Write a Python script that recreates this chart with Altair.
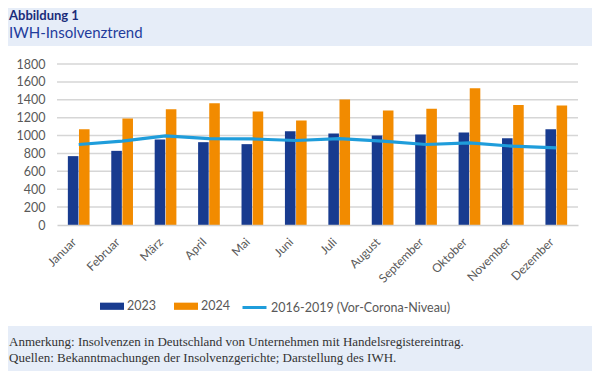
import altair as alt
import pandas as pd

months = ["Januar", "Februar", "März", "April", "Mai", "Juni", "Juli",
          "August", "September", "Oktober", "November", "Dezember"]
v2023 = [770, 829, 956, 926, 904, 1049, 1022, 1000, 1011, 1034, 970, 1071]
v2024 = [1071, 1190, 1294, 1361, 1268, 1168, 1402, 1279, 1301, 1528, 1342, 1335]
vbase = [900, 937, 996, 966, 962, 945, 966, 937, 900, 918, 881, 862]
series = ["2023", "2024", "2016-2019 (Vor-Corona-Niveau)"]
colors = ["#183b8f", "#f28b00", "#1f9ddb"]
y_ticks = [0, 200, 400, 600, 800, 1000, 1200, 1400, 1600, 1800]

title1 = "Abbildung 1"
title2 = "IWH-Insolvenztrend"
note1 = "Anmerkung: Insolvenzen in Deutschland von Unternehmen mit Handelsregistereintrag."
note2 = "Quellen: Bekanntmachungen der Insolvenzgerichte; Darstellung des IWH."

bars_df = pd.DataFrame(
    [{"Monat": m, "Reihe": "2023", "Wert": v} for m, v in zip(months, v2023)]
    + [{"Monat": m, "Reihe": "2024", "Wert": v} for m, v in zip(months, v2024)]
)
line_df = pd.DataFrame({"Monat": months, "Reihe": series[2], "Wert": vbase})
grid_df = pd.DataFrame({"Wert": y_ticks[1:]})

FONT = "Lato"

y_axis = alt.Axis(values=y_ticks, format="d", labelFontSize=12.5, labelColor="#595959",
                  labelFont=FONT, ticks=False, domain=False, grid=False,
                  labelPadding=12, zindex=1)
y_scale = alt.Scale(domain=[0, 1800], nice=False)

x_enc = alt.X("Monat:N", sort=months, title=None,
              scale=alt.Scale(paddingInner=0.5, paddingOuter=0.25),
              axis=alt.Axis(labelAngle=-45, labelFontSize=12, labelColor="#595959",
                            labelFont=FONT, ticks=False, domainColor="#d0d0d0",
                            domainWidth=1.5, grid=False, labelPadding=11,
                            labelOffset=-8, zindex=1))

legend_common = dict(title=None, orient="none", direction="horizontal",
                     labelFontSize=12.5, labelColor="#595959", labelFont=FONT,
                     columnPadding=18, labelOffset=3, padding=0, labelLimit=400)

fill_enc = alt.Fill("Reihe:N", scale=alt.Scale(domain=series[:2], range=colors[:2]),
                    legend=alt.Legend(legendX=43, legendY=230, symbolSize=576,
                                      symbolType="M-1,-0.3H1V0.3H-1Z", symbolStrokeWidth=0,
                                      **legend_common))
stroke_enc = alt.Stroke("Reihe:N", scale=alt.Scale(domain=series[2:], range=colors[2:]),
                        legend=alt.Legend(legendX=184, legendY=230, symbolSize=576,
                                          symbolType="stroke", symbolStrokeWidth=3,
                                          **legend_common))

blank = alt.Data(values=[{}])

# white panel behind the chart body (decoration)
panel = alt.Chart(blank).mark_rect(color="white").encode(
    x=alt.value(-49), x2=alt.value(535), y=alt.value(-18), y2=alt.value(262))

grid = alt.Chart(grid_df).mark_rule(color="#d6d6d6", strokeWidth=1.5).encode(
    y=alt.Y("Wert:Q", title=None, scale=y_scale, axis=y_axis))

bars = alt.Chart(bars_df).mark_bar().encode(
    x=x_enc,
    y=alt.Y("Wert:Q", title=None, scale=y_scale, axis=y_axis),
    xOffset=alt.XOffset("Reihe:N", sort=series[:2], scale=alt.Scale(paddingInner=0.05)),
    fill=fill_enc,
)

line = alt.Chart(line_df).mark_line(strokeWidth=3.2).encode(
    x=alt.X("Monat:N", sort=months),
    y=alt.Y("Wert:Q", title=None, scale=y_scale, axis=y_axis),
    stroke=stroke_enc)

t1 = alt.Chart(blank).mark_text(align="left", baseline="alphabetic", font=FONT,
                                fontSize=13, fontWeight="bold", color="#1a2c7a").encode(
    x=alt.value(-48), y=alt.value(-44), text=alt.value(title1))
t2 = alt.Chart(blank).mark_text(align="left", baseline="alphabetic", font=FONT,
                                fontSize=15, color="#1f3c9c").encode(
    x=alt.value(-48), y=alt.value(-26), text=alt.value(title2))
n1 = alt.Chart(blank).mark_text(align="left", baseline="alphabetic", font="Liberation Serif",
                                fontSize=13, color="#333333").encode(
    x=alt.value(-48), y=alt.value(282), text=alt.value(note1))
n2 = alt.Chart(blank).mark_text(align="left", baseline="alphabetic", font="Liberation Serif",
                                fontSize=13, color="#333333").encode(
    x=alt.value(-48), y=alt.value(298), text=alt.value(note2))

chart = alt.layer(panel, grid, bars, line, t1, t2, n1, n2).properties(
    width=521, height=161,
    autosize=alt.AutoSizeParams(type="none"),
    padding={"left": 49, "top": 56, "right": 14, "bottom": 146},
    background="#e6edf8",
).configure_view(stroke=None)

chart.save("out.html", embed_options={"renderer": "svg", "actions": False})
